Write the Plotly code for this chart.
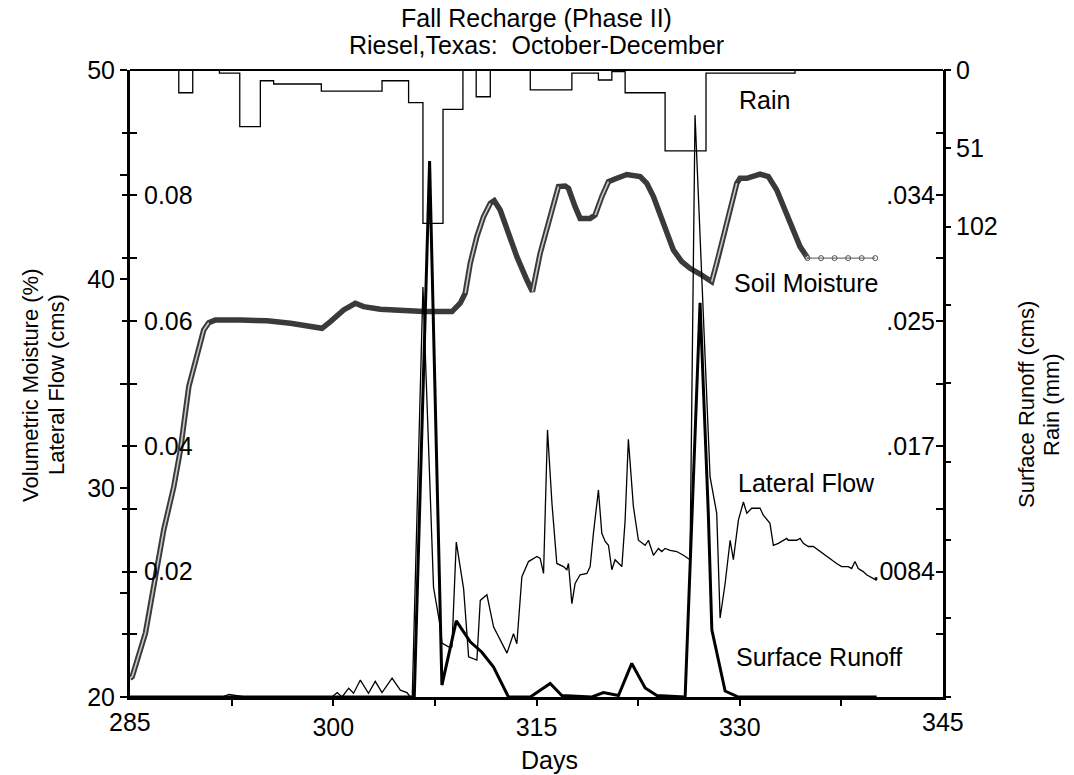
import plotly.graph_objects as go

# ---------------- data ----------------
# Soil moisture (volumetric %), dense record
sm_day = [285.0, 285.16, 286.14, 286.88, 287.49, 288.23, 288.72, 289.34, 290.07, 290.44,
          290.81, 291.3, 293.15, 295.12, 296.84, 298.31, 299.17, 299.79, 300.77, 301.63,
          302.24, 303.47, 304.95, 306.67, 308.76, 309.37, 309.74, 310.11, 310.6, 311.09,
          311.59, 311.88, 312.32, 312.82, 313.55, 314.29, 314.7, 315.27, 316.01, 316.62,
          317.12, 317.36, 317.85, 318.22, 318.96, 319.33, 319.82, 320.31, 320.93, 321.67,
          322.65, 323.14, 323.63, 324.37, 325.1, 325.72, 326.33, 327.07, 327.93, 328.3,
          328.79, 329.28, 329.78, 330.02, 330.52, 331.5, 332.11, 332.73, 333.34, 333.95,
          334.45, 334.94]
sm_val = [20.9, 20.97, 23.06, 25.76, 28.0, 30.06, 31.82, 34.85, 36.6, 37.56,
          37.91, 38.04, 38.04, 38.0, 37.88, 37.72, 37.64, 37.96, 38.52, 38.84,
          38.68, 38.55, 38.47, 38.44, 38.44, 38.84, 39.32, 40.75, 42.03, 42.98,
          43.62, 43.75, 43.3, 42.34, 41.07, 39.95, 39.4, 41.23, 42.98, 44.42,
          44.45, 44.34, 43.46, 42.9, 42.9, 43.06, 43.94, 44.66, 44.82, 45.0,
          44.9, 44.58, 43.94, 42.67, 41.39, 40.83, 40.51, 40.24, 39.87, 40.75,
          42.02, 43.3, 44.58, 44.82, 44.82, 45.02, 44.9, 44.26, 43.3, 42.26,
          41.55, 41.07]
# index ranges of the steep rises (drawn as hollow-looking markers in the original)
sm_steep = [(0, 10), (26, 30), (36, 39), (45, 47), (58, 62)]
# Soil moisture, daily values at the end
sm_tail_day = [334.94, 335, 336, 337, 338, 339, 340]
sm_tail_val = [41.07, 41.0, 41.0, 41.0, 41.0, 41.0, 41.0]

# Lateral flow (cms)
lf_day = [285.0, 291.8, 292.3, 292.9, 293.5, 299.9, 300.29, 300.65, 301.14, 301.5,
          302.0, 302.6, 303.1, 303.6, 304.34, 304.95, 305.44, 305.69, 305.83, 306.62,
          307.40, 307.90, 308.02, 308.51, 308.76, 309.08, 309.62, 309.99, 310.48, 310.60,
          310.85, 311.34, 311.83, 312.20, 312.82, 313.30, 313.55, 313.92, 314.41, 315.03,
          315.27, 315.52, 315.81, 316.14, 316.5, 316.99, 317.24, 317.36, 317.61, 317.85,
          318.22, 318.72, 318.96, 319.2, 319.57, 319.82, 320.07, 320.31, 320.56, 320.8,
          321.3, 321.54, 321.78, 322.15, 322.52, 323.02, 323.26, 323.63, 324.0, 324.25,
          324.49, 324.86, 325.35, 325.84, 326.21, 326.33, 326.7, 327.2, 327.81, 328.3,
          328.55, 328.92, 329.29, 329.53, 329.9, 330.27, 330.52, 330.88, 331.25, 331.5,
          331.74, 332.11, 332.23, 332.48, 332.85, 333.47, 333.58, 334.2, 334.45, 334.69,
          335.06, 335.43, 335.8, 336.16, 336.66, 337.15, 337.52, 338.01, 338.26, 338.5,
          338.75, 339.11, 339.36, 339.85, 340.1]
lf_val = [0, 0, 0.0004, 0.0002, 0, 0, 0.0007, 0, 0.0014, 0.0006,
          0.0027, 0.0006, 0.0025, 0.0007, 0.003, 0.0011, 0.0007, 0, 0, 0.0654,
          0.0175, 0.0112, 0.0086, 0.008, 0.008, 0.0247, 0.0173, 0.0064, 0.0059, 0.0059,
          0.0154, 0.0163, 0.0112, 0.0096, 0.007, 0.0101, 0.0085, 0.0192, 0.0216, 0.0224,
          0.0221, 0.0197, 0.0426, 0.0309, 0.0213, 0.0208, 0.0203, 0.0213, 0.0149, 0.0181,
          0.0195, 0.0197, 0.0208, 0.0261, 0.033, 0.0261, 0.0248, 0.0242, 0.0203, 0.0219,
          0.0208, 0.0282, 0.0411, 0.0304, 0.025, 0.0242, 0.025, 0.0226, 0.0237, 0.0232,
          0.0237, 0.0234, 0.0232, 0.0226, 0.0221, 0.0219, 0.0928, 0.0665, 0.0351, 0.0293,
          0.0126, 0.0181, 0.025, 0.0219, 0.0282, 0.0311, 0.0293, 0.0301, 0.0301, 0.0301,
          0.029, 0.028, 0.0277, 0.0242, 0.0245, 0.0253, 0.025, 0.025, 0.0253, 0.0245,
          0.024, 0.024, 0.0234, 0.0229, 0.0221, 0.0213, 0.0208, 0.0208, 0.0205, 0.0216,
          0.0205, 0.02, 0.0195, 0.0189, 0.0186]

# Surface runoff (cms)
sr_day = [285.0, 305.98, 307.11, 308.02, 309.08, 310.11, 310.97, 311.83, 312.93, 314.54,
          316.01, 316.87, 319.09, 319.94, 321.05, 322.03, 323.02, 323.88, 325.97, 327.07,
          327.68, 327.94, 328.92, 329.9, 340.1]
sr_val = [0, 0, 0.0359, 0.0008, 0.0051, 0.0037, 0.003, 0.002, 0, 0,
          0.0009, 0.0001, 0, 0.0003, 0.0001, 0.00225, 0.0006, 0.0001, 0, 0.0264,
          0.0123, 0.0045, 0.0004, 0, 0]

# Rain (mm), step values starting at each day
rain_day = [285.0, 288.60, 289.63, 291.60, 293.10, 294.62, 295.60, 299.12, 303.60, 305.56,
            306.62, 308.10, 309.57, 310.55, 311.59, 314.54, 317.61, 319.57, 320.56, 321.54,
            324.49, 327.51, 334.08, 345.0]
rain_mm = [0, 14.8, 0, 2, 36.9, 7, 9.1, 13.7, 7, 21.3,
           99.8, 25.6, 0, 17.4, 0, 13, 2, 6.5, 1, 14.8,
           52.7, 2, 0, 0]

# axis ticks
x_ticks = [285, 292.5, 300, 307.5, 315, 322.5, 330, 337.5, 345]
x_labels = ["285", "", "300", "", "315", "", "330", "", "345"]
sm_ticks = [20, 25, 30, 35, 40, 45, 50]
sm_labels = ["20", "", "30", "", "40", "", "50"]
lf_ticks = [0, 0.01, 0.02, 0.03, 0.04, 0.05, 0.06, 0.07, 0.08, 0.09]
lf_labels = ["0.00", "", "0.02", "", "0.04", "", "0.06", "", "0.08", ""]
sr_ticks = [0, 0.0042, 0.0084, 0.0126, 0.0168, 0.021, 0.0252, 0.0294, 0.0336, 0.0378]
sr_labels = ["0.0", "", ".0084", "", ".017", "", ".025", "", ".034", ""]
rain_ticks = [0, 51, 102, 153, 204, 255, 306, 357, 408]
rain_labels = ["0", "51", "102", "", "", "", "", "", ""]

assert len(sm_day) == len(sm_val)
assert len(lf_day) == len(lf_val)
assert len(sr_day) == len(sr_val)
assert len(rain_day) == len(rain_mm)

FONT = "Liberation Sans, Arial, Helvetica, sans-serif"
TS = 25   # horizontal text size
fig = go.Figure()

fig.add_trace(go.Scatter(x=sm_day, y=sm_val, mode="lines", yaxis="y",
                         line=dict(color="#3a3a3a", width=5.5), hoverinfo="skip"))
# light core along the steep rises (hollow squares look)
steep_x, steep_y = [], []
for a, b in sm_steep:
    steep_x += sm_day[a:b + 1] + [None]
    steep_y += sm_val[a:b + 1] + [None]
fig.add_trace(go.Scatter(x=steep_x, y=steep_y, mode="lines", yaxis="y",
                         line=dict(color="#c8c8c8", width=1.6), hoverinfo="skip"))
fig.add_trace(go.Scatter(x=sm_tail_day, y=sm_tail_val, mode="lines+markers", yaxis="y",
                         line=dict(color="#555555", width=1),
                         marker=dict(symbol="circle-open", size=5, color="#555555",
                                     line=dict(width=1)), hoverinfo="skip"))
fig.add_trace(go.Scatter(x=lf_day, y=lf_val, mode="lines", yaxis="y2",
                         line=dict(color="black", width=1.3), hoverinfo="skip"))
fig.add_trace(go.Scatter(x=[], y=[], yaxis="y3", hoverinfo="skip"))
fig.add_trace(go.Scatter(x=sr_day, y=sr_val, mode="lines", yaxis="y4",
                         line=dict(color="black", width=3), hoverinfo="skip"))
fig.add_trace(go.Scatter(x=rain_day, y=rain_mm, mode="lines", yaxis="y5",
                         line=dict(color="black", width=1.3, shape="hv"), hoverinfo="skip"))

common = dict(showgrid=False, zeroline=False, tickcolor="black", tickwidth=1.5,
              tickfont=dict(family=FONT, size=TS, color="black"))

fig.update_layout(
    width=1074, height=775,
    margin=dict(l=130, r=131, t=70, b=78),
    plot_bgcolor="white", paper_bgcolor="white", showlegend=False,
    font=dict(family=FONT, size=TS, color="black"),
    xaxis=dict(range=[285, 345], tickvals=x_ticks, ticktext=x_labels, ticks="outside",
               ticklen=6, showline=True, linewidth=2.5, linecolor="black", **common),
    yaxis=dict(range=[20, 50], tickvals=sm_ticks, ticktext=sm_labels, ticks="outside",
               ticklen=7, showline=True, linewidth=3, linecolor="black", **common),
    yaxis2=dict(range=[0, 0.1], overlaying="y", anchor="x", side="left",
                tickvals=lf_ticks, ticktext=lf_labels, ticks="inside",
                ticklabelposition="inside", ticklabelstandoff=9, ticklen=7,
                showline=False, **common),
    yaxis3=dict(range=[0, 0.1], overlaying="y", anchor="x", side="left",
                tickvals=lf_ticks, ticks="outside", ticklen=7, showticklabels=False,
                showline=False, **common),
    yaxis4=dict(range=[0, 0.042], overlaying="y", anchor="x", side="right",
                tickvals=sr_ticks, ticktext=sr_labels, ticks="inside",
                ticklabelposition="inside", ticklabelstandoff=3, ticklen=7,
                showline=True, linewidth=3, linecolor="black", **common),
    yaxis5=dict(range=[408.2, 0], overlaying="y", anchor="x", side="right",
                tickvals=rain_ticks, ticktext=rain_labels, ticks="outside", ticklen=7,
                showline=False, **common),
)

# top border
fig.add_shape(type="line", xref="paper", yref="paper", x0=0, x1=1, y0=1, y1=1,
              line=dict(color="black", width=2))

L, R, T, B = 130, 943, 70, 697
def px(xp):
    return (xp - L) / (R - L)
def py(yp):
    return (B - yp) / (B - T)

def add_text(text, x, y, xref="paper", yref="paper", xanchor="center", angle=0, size=TS):
    fig.add_annotation(text=text, x=x, y=y, xref=xref, yref=yref, xanchor=xanchor,
                       yanchor="middle", showarrow=False, textangle=angle,
                       font=dict(family=FONT, size=size, color="black"))

add_text("Fall Recharge (Phase II)", px(536), py(18), size=25)
add_text("Riesel,Texas:\u00a0 October-December", px(536), py(45), size=25)
add_text("Days", px(549), py(760))
add_text("285", px(L), py(722))
add_text("345", px(R), py(722))
add_text("Volumetric Moisture (%)", px(30), py(385), angle=-90, size=22)
add_text("Lateral Flow (cms)", px(56), py(385), angle=-90, size=22)
add_text("Surface Runoff (cms)", px(1026), py(405), angle=-90, size=22)
add_text("Rain (mm)", px(1051), py(405), angle=-90, size=22)
add_text("Rain", 329.8, 48.55, xref="x", yref="y", xanchor="left")
add_text("Soil Moisture", 329.4, 39.8, xref="x", yref="y", xanchor="left")
add_text("Lateral Flow", 329.75, 30.25, xref="x", yref="y", xanchor="left")
add_text("Surface Runoff", 329.6, 21.9, xref="x", yref="y", xanchor="left")

fig.write_html("out.html")
